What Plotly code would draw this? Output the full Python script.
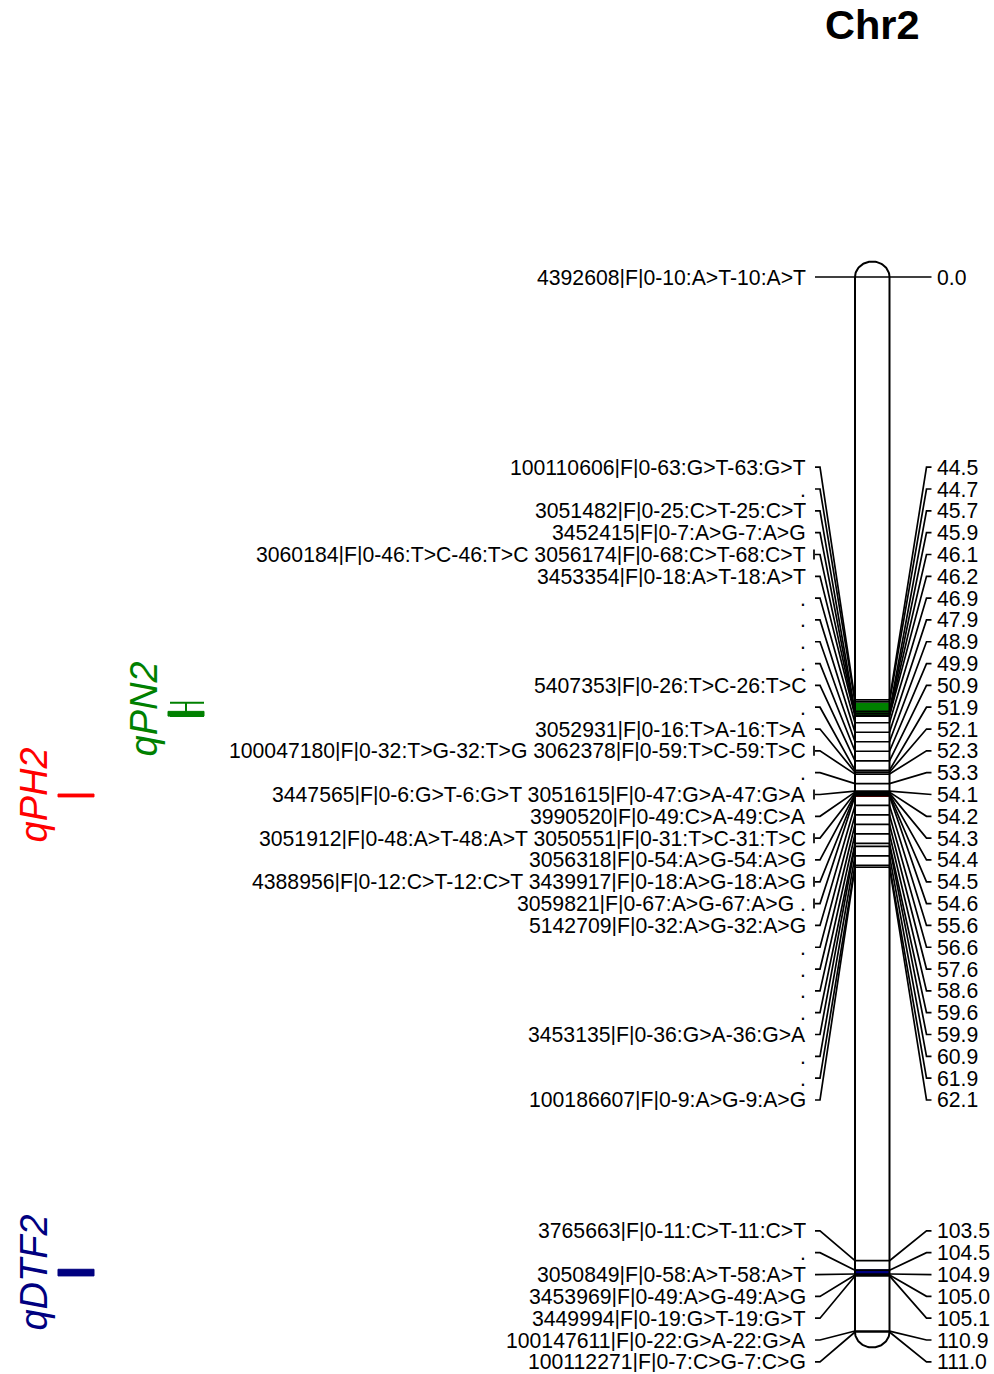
import numpy as np
import plotly.graph_objects as go

# ---- linkage group data -------------------------------------------------
chromosome = "Chr2"

positions = [0.0, 44.5, 44.7, 45.7, 45.9, 46.1, 46.2, 46.9, 47.9, 48.9, 49.9,
             50.9, 51.9, 52.1, 52.3, 53.3, 54.1, 54.2, 54.3, 54.4, 54.5, 54.6,
             55.6, 56.6, 57.6, 58.6, 59.6, 59.9, 60.9, 61.9, 62.1,
             103.5, 104.5, 104.9, 105.0, 105.1, 110.9, 111.0]

marker_names = [
    ["4392608|F|0-10:A>T-10:A>T"],
    ["100110606|F|0-63:G>T-63:G>T"],
    ["."],
    ["3051482|F|0-25:C>T-25:C>T"],
    ["3452415|F|0-7:A>G-7:A>G"],
    ["3060184|F|0-46:T>C-46:T>C", "3056174|F|0-68:C>T-68:C>T"],
    ["3453354|F|0-18:A>T-18:A>T"],
    ["."],
    ["."],
    ["."],
    ["."],
    ["5407353|F|0-26:T>C-26:T>C"],
    ["."],
    ["3052931|F|0-16:T>A-16:T>A"],
    ["100047180|F|0-32:T>G-32:T>G", "3062378|F|0-59:T>C-59:T>C"],
    ["."],
    ["3447565|F|0-6:G>T-6:G>T", "3051615|F|0-47:G>A-47:G>A"],
    ["3990520|F|0-49:C>A-49:C>A"],
    ["3051912|F|0-48:A>T-48:A>T", "3050551|F|0-31:T>C-31:T>C"],
    ["3056318|F|0-54:A>G-54:A>G"],
    ["4388956|F|0-12:C>T-12:C>T", "3439917|F|0-18:A>G-18:A>G"],
    ["3059821|F|0-67:A>G-67:A>G", "."],
    ["5142709|F|0-32:A>G-32:A>G"],
    ["."],
    ["."],
    ["."],
    ["."],
    ["3453135|F|0-36:G>A-36:G>A"],
    ["."],
    ["."],
    ["100186607|F|0-9:A>G-9:A>G"],
    ["3765663|F|0-11:C>T-11:C>T"],
    ["."],
    ["3050849|F|0-58:A>T-58:A>T"],
    ["3453969|F|0-49:A>G-49:A>G"],
    ["3449994|F|0-19:G>T-19:G>T"],
    ["100147611|F|0-22:G>A-22:G>A"],
    ["100112271|F|0-7:C>G-7:C>G"],
]

qtl_names = ["qPH2", "qPN2", "qDTF2"]
qtl_colors = ["#FF0000", "#008000", "#000080"]
qtl_outer_start = [54.4, 44.8, 104.4]
qtl_outer_end = [54.7, 46.2, 105.1]
qtl_inner_start = [54.4, 45.7, 104.4]
qtl_inner_end = [54.7, 46.2, 105.1]
qtl_column = [0, 1, 0]

# ---- drawing geometry (pixels) ------------------------------------------
FIG_W, FIG_H = 994, 1374
TOP_PX, BOTTOM_PX = 277, 1332          # chromosome ends on the page
CHR_L, CHR_R = 855, 889.5              # chromosome edges
CAP_PX = 15.5                          # height of rounded end caps
ROW_PX = 21.82                         # spacing of label rows
LEFT_TXT, LEFT_A, LEFT_B = 806, 815, 820
RIGHT_A, RIGHT_B, RIGHT_TXT = 926.5, 931.5, 937
QTL_LEFT = [58, 168]
QTL_WIDTH = 36
FONT = "Liberation Sans, Arial, sans-serif"
LBL_SIZE = 21.2
LBL_BOX = 21                           # height of each label's text box

lo, hi = min(positions), max(positions)
px_per_cm = (BOTTOM_PX - TOP_PX) / (hi - lo)
y_top = lo - TOP_PX / px_per_cm
y_bottom = lo + (FIG_H - TOP_PX) / px_per_cm


def cm(px):
    return px / px_per_cm


# spread label rows so they do not overlap
gap = cm(ROW_PX)
clusters = [[p] for p in positions]
changed = True
while changed:
    changed = False
    for i in range(len(clusters) - 1):
        a, b = clusters[i], clusters[i + 1]
        ca, cb = (a[0] + a[-1]) / 2, (b[0] + b[-1]) / 2
        ha, hb = (len(a) - 1) / 2 * gap, (len(b) - 1) / 2 * gap
        if (cb - hb) - (ca + ha) < gap:
            clusters[i] = a + b
            del clusters[i + 1]
            changed = True
            break
rows = []
for c in clusters:
    centre = (c[0] + c[-1]) / 2
    start = centre - (len(c) - 1) / 2 * gap
    rows += [start + k * gap for k in range(len(c))]

fig = go.Figure()

# QTL fills on the chromosome
for s0, s1, col in zip(qtl_outer_start, qtl_outer_end, qtl_colors):
    fig.add_shape(type="rect", xref="x", yref="y", x0=CHR_L, x1=CHR_R,
                  y0=s0, y1=s1, fillcolor=col, line_width=0, layer="below")

# marker bands across the chromosome
bx, by = [], []
for p in positions:
    bx += [CHR_L, CHR_R, None]
    by += [p, p, None]
fig.add_trace(go.Scatter(x=bx, y=by, mode="lines",
                         line=dict(color="black", width=1.7), hoverinfo="skip"))

# connectors between labels and marker positions
cx, cy = [], []
for p, r, names in zip(positions, rows, marker_names):
    cx += [LEFT_A, LEFT_B, CHR_L, None, CHR_R, RIGHT_A, RIGHT_B, None]
    cy += [r, r, p, None, p, r, r, None]
    if len(names) > 1:
        cx += [LEFT_A - 1, LEFT_A - 1, None]
        cy += [r - cm(5), r + cm(5), None]
fig.add_trace(go.Scatter(x=cx, y=cy, mode="lines",
                         line=dict(color="black", width=1.7), hoverinfo="skip"))

# chromosome outline with rounded caps
t = np.linspace(0, np.pi, 60)
rx = (CHR_R - CHR_L) / 2
mid = (CHR_L + CHR_R) / 2
ox = list(mid - rx * np.cos(t)) + list(mid + rx * np.cos(t)) + [CHR_L]
oy = list(lo - cm(CAP_PX) * np.sin(t)) + list(hi + cm(CAP_PX) * np.sin(t)) + [lo]
fig.add_trace(go.Scatter(x=ox, y=oy, mode="lines",
                         line=dict(color="black", width=2), hoverinfo="skip"))

# QTL intervals beside the map
for name, col, o0, o1, i0, i1, c in zip(qtl_names, qtl_colors, qtl_outer_start,
                                       qtl_outer_end, qtl_inner_start,
                                       qtl_inner_end, qtl_column):
    x0 = QTL_LEFT[c]
    x1 = x0 + QTL_WIDTH
    xm = (x0 + x1) / 2
    fig.add_shape(type="rect", xref="x", yref="y", x0=x0, x1=x1, y0=i0, y1=i1,
                  fillcolor=col, line=dict(color=col, width=1))
    if (o0, o1) != (i0, i1):
        fig.add_trace(go.Scatter(
            x=[x0 + 2, x1, None, xm, xm, None, x0 + 2, x1],
            y=[o0, o0, None, o0, o1, None, o1, o1],
            mode="lines", line=dict(color=col, width=2), hoverinfo="skip"))
    fig.add_annotation(x=xm - 42, y=(o0 + o1) / 2, xref="x", yref="y",
                       text="<i>%s</i>" % name, textangle=-90, showarrow=False,
                       font=dict(family=FONT, size=38, color=col),
                       xanchor="center", yanchor="middle")

# marker names and positions
for p, r, names in zip(positions, rows, marker_names):
    label = " ".join(names).replace(">", "&gt;")
    fig.add_annotation(x=LEFT_TXT, y=r, xref="x", yref="y", text=label,
                       showarrow=False, xanchor="right", yanchor="middle",
                       height=LBL_BOX, valign="middle",
                       borderpad=0, borderwidth=0,
                       font=dict(family=FONT, size=LBL_SIZE, color="black"))
    fig.add_annotation(x=RIGHT_TXT, y=r, xref="x", yref="y", text="%.1f" % p,
                       showarrow=False, xanchor="left", yanchor="middle",
                       height=LBL_BOX, valign="middle",
                       borderpad=0, borderwidth=0,
                       font=dict(family=FONT, size=LBL_SIZE, color="black"))

# linkage group title
fig.add_annotation(x=mid, y=y_top + cm(24), xref="x", yref="y",
                   text="<b>%s</b>" % chromosome, showarrow=False,
                   xanchor="center", yanchor="middle",
                   font=dict(family=FONT, size=41.5, color="black"))

fig.update_layout(
    width=FIG_W, height=FIG_H, margin=dict(l=0, r=0, t=0, b=0),
    paper_bgcolor="white", plot_bgcolor="white", showlegend=False,
    xaxis=dict(visible=False, range=[0, FIG_W], fixedrange=True),
    yaxis=dict(visible=False, range=[y_bottom, y_top], fixedrange=True),
)

fig.write_html("out.html")
